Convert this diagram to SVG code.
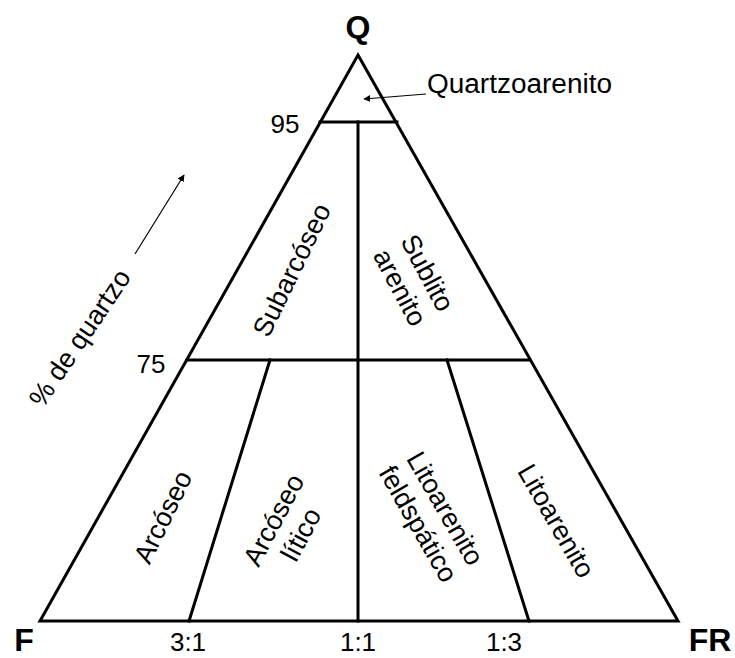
<svg xmlns="http://www.w3.org/2000/svg" width="735" height="658" viewBox="0 0 735 658">
<defs>
<marker id="ah" viewBox="0 0 10 10" refX="9" refY="5" markerWidth="7" markerHeight="7" markerUnits="userSpaceOnUse" orient="auto"><path d="M0,0 L10,5 L0,10 z" fill="#000"/></marker>
</defs>
<style>
.ln{stroke:#000;stroke-width:3;fill:none;stroke-linejoin:miter;stroke-linecap:square}
.thin{stroke:#000;stroke-width:1.2;fill:none}
text{font-family:"Liberation Sans",Arial,sans-serif;fill:#000}
.lab{font-size:27px;text-anchor:middle}
.num{font-size:26px;text-anchor:middle}
.vx{font-size:32px;font-weight:bold;text-anchor:middle}
</style>
<rect width="735" height="658" fill="#fff"/>
<g id="connectors">
<path class="ln" d="M358,55 L678,621 L40,621 Z"/>
<line class="ln" x1="320" y1="122" x2="397" y2="122"/>
<line class="ln" x1="187" y1="360" x2="529" y2="360"/>
<line class="ln" x1="358" y1="122" x2="358" y2="621"/>
<line class="ln" x1="270" y1="360" x2="189" y2="621"/>
<line class="ln" x1="447" y1="360" x2="529" y2="621"/>
<line class="thin" x1="426" y1="94" x2="364" y2="99" marker-end="url(#ah)"/>
<line class="thin" x1="135" y1="254" x2="184" y2="175" marker-end="url(#ah)"/>
</g>
<g id="vertex-Q"><text class="vx" x="358" y="38">Q</text></g>
<g id="vertex-F"><text class="vx" x="24" y="651">F</text></g>
<g id="vertex-FR"><text class="vx" x="710" y="651">FR</text></g>
<g id="ticks">
<text class="num" x="285" y="133">95</text>
<text class="num" x="151" y="373">75</text>
<text class="num" x="188" y="651">3:1</text>
<text class="num" x="358" y="651">1:1</text>
<text class="num" x="504" y="651">1:3</text>
</g>
<g id="axis-label"><text class="lab" transform="translate(80,338) rotate(-56)" y="9">% de quartzo</text></g>
<g id="quartzoarenito"><text x="427" y="93" font-size="27" textLength="185" lengthAdjust="spacingAndGlyphs">Quartzoarenito</text></g>
<g id="subarcoseo"><text class="lab" transform="translate(292,270) rotate(-64)" y="9">Subarcóseo</text></g>
<g id="sublitoarenito"><text class="lab" transform="translate(414,280) rotate(62)"><tspan x="0" y="-6">Sublito</tspan><tspan x="0" y="25">arenito</tspan></text></g>
<g id="arcoseo"><text class="lab" transform="translate(163,517) rotate(-64)" y="9">Arcóseo</text></g>
<g id="arcoseo-litico"><text class="lab" transform="translate(287,527) rotate(-62)"><tspan x="0" y="-6">Arcóseo</tspan><tspan x="0" y="25">lítico</tspan></text></g>
<g id="litoarenito-feldspatico"><text class="lab" transform="translate(432,516) rotate(60)"><tspan x="0" y="-6">Litoarenito</tspan><tspan x="0" y="25">feldspático</tspan></text></g>
<g id="litoarenito"><text class="lab" transform="translate(556,521) rotate(60)" y="9">Litoarenito</text></g>
</svg>
